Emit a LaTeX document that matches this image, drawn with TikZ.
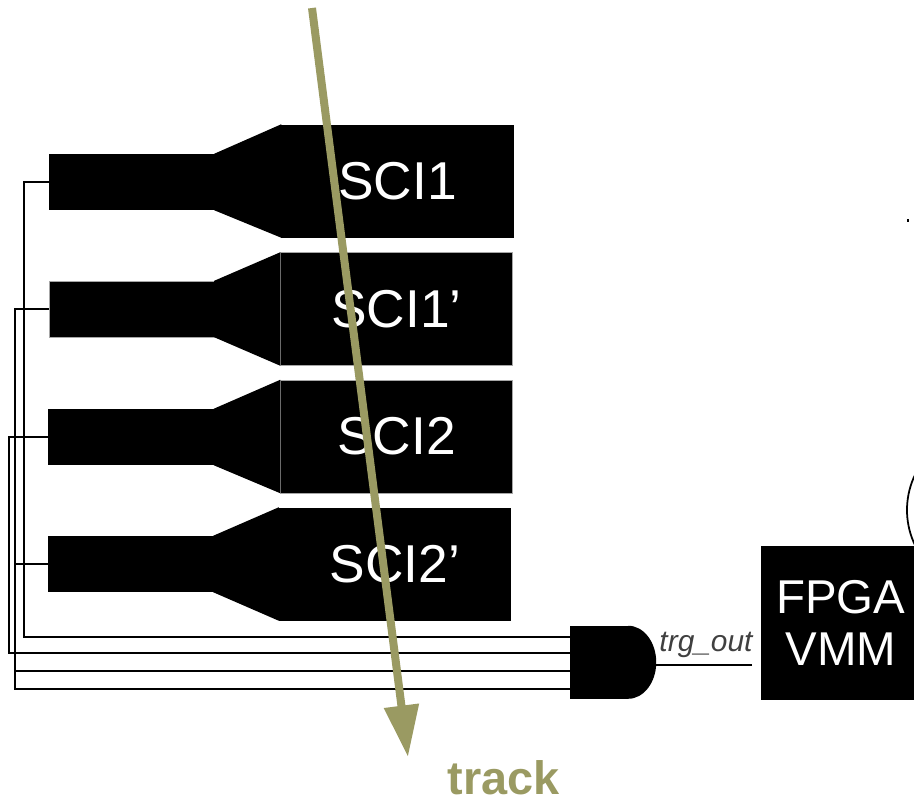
\documentclass[tikz,border=0pt]{standalone}
\usepackage{fontspec}
\setmainfont{Liberation Sans}
\usetikzlibrary{arrows.meta}
\definecolor{trackcol}{HTML}{9A9A62}
\tikzset{
	pmt/.style={fill=black,inner sep=0pt,minimum width=4.95cm,minimum height=1.68cm},
	sci/.style={fill=black,inner sep=0pt,minimum width=6.96cm,minimum height=3.39cm,text=white,font=\fontsize{45.5}{45}\selectfont},
	edged/.style={draw=gray!70,line width=0.4pt},
	wire/.style={black,line width=1.4pt},
	guide/.style={fill=black},
	track/.style={trackcol,line width=0.24cm,-{Triangle[length=1.55cm,width=1cm]}},
}
\begin{document}
\begin{tikzpicture}[x=0.03cm,y=-0.03cm]
	\useasboundingbox (0,0) rectangle (914,798);
	\node[pmt] (pmta) at (131.5,182) {};
	\node[pmt,edged] (pmtb) at (131.5,309) {};
	\node[pmt] (pmtc) at (131,437) {};
	\node[pmt] (pmtd) at (130.5,564) {};
	\node[sci] (scia) at (397.5,181) {SCI1};
	\node[sci,edged] (scib) at (396.5,309) {SCI1’};
	\node[sci,edged] (scic) at (396.5,436.5) {SCI2};
	\node[sci] (scid) at (395,564) {SCI2’};
	\fill[guide] (pmta.north east) -- (scia.north west) -- (scia.south west) -- (pmta.south east) -- cycle;
	\fill[guide] (pmtb.north east) -- (scib.north west) -- (scib.south west) -- (pmtb.south east) -- cycle;
	\fill[guide] (pmtc.north east) -- (scic.north west) -- (scic.south west) -- (pmtc.south east) -- cycle;
	\fill[guide] (pmtd.north east) -- (scid.north west) -- (scid.south west) -- (pmtd.south east) -- cycle;
	\node[fill=black,inner sep=0pt,minimum width=1.74cm,minimum height=2.19cm] (trg) at (599,662.5) {};
	\fill[guide] (trg.north east) arc[start angle=-90,end angle=90,x radius=28,y radius=36.5];
	\coordinate (trgina) at (570,637);
	\coordinate (trginb) at (570,653);
	\coordinate (trginc) at (570,671);
	\coordinate (trgind) at (570,689);
	\draw[wire] (pmta.west) -- ++(-25,0) |- (trgina);
	\draw[wire] (pmtc.west) -- ++(-39.5,0) |- (trginb);
	\draw[wire] (pmtd.west) -- ++(-33,0) |- (trginc);
	\draw[wire] (pmtb.west) -- ++(-34,0) |- (trgind);
	\node[draw=black,line width=1.5pt,circle,inner sep=0pt,minimum size=4.86cm] (pmtround) at (988,510) {};
	\node[fill=black,text=white,inner sep=0pt,minimum width=4.59cm,minimum height=4.62cm,align=center,font=\fontsize{40.5}{45}\selectfont] (fpga) at (837.5,623) {\hspace*{0.2cm}FPGA\\\hspace*{0.2cm}VMM};
	\coordinate (trgend) at (752,665);
	\coordinate (trgstart) at (654,665);
	\draw[wire] (trgend) -- (trgstart);
	\node[inner sep=0pt,text=black!75,font=\fontsize{25.5}{25}\selectfont\itshape] (trglabel) at (706,645) {trg\_out};
	\node[fill=black,inner sep=0pt,minimum width=0.06cm,minimum height=0.09cm] (dot) at (908,220) {};
	\coordinate (trackin) at (312,8);
	\coordinate (trackout) at (408,757);
	\draw[track] (trackin) -- (trackout);
	\node[inner sep=0pt,text=trackcol,font=\fontsize{40}{40}\selectfont\bfseries] (tracklabel) at (503.5,778) {track};
\end{tikzpicture}
\end{document}
